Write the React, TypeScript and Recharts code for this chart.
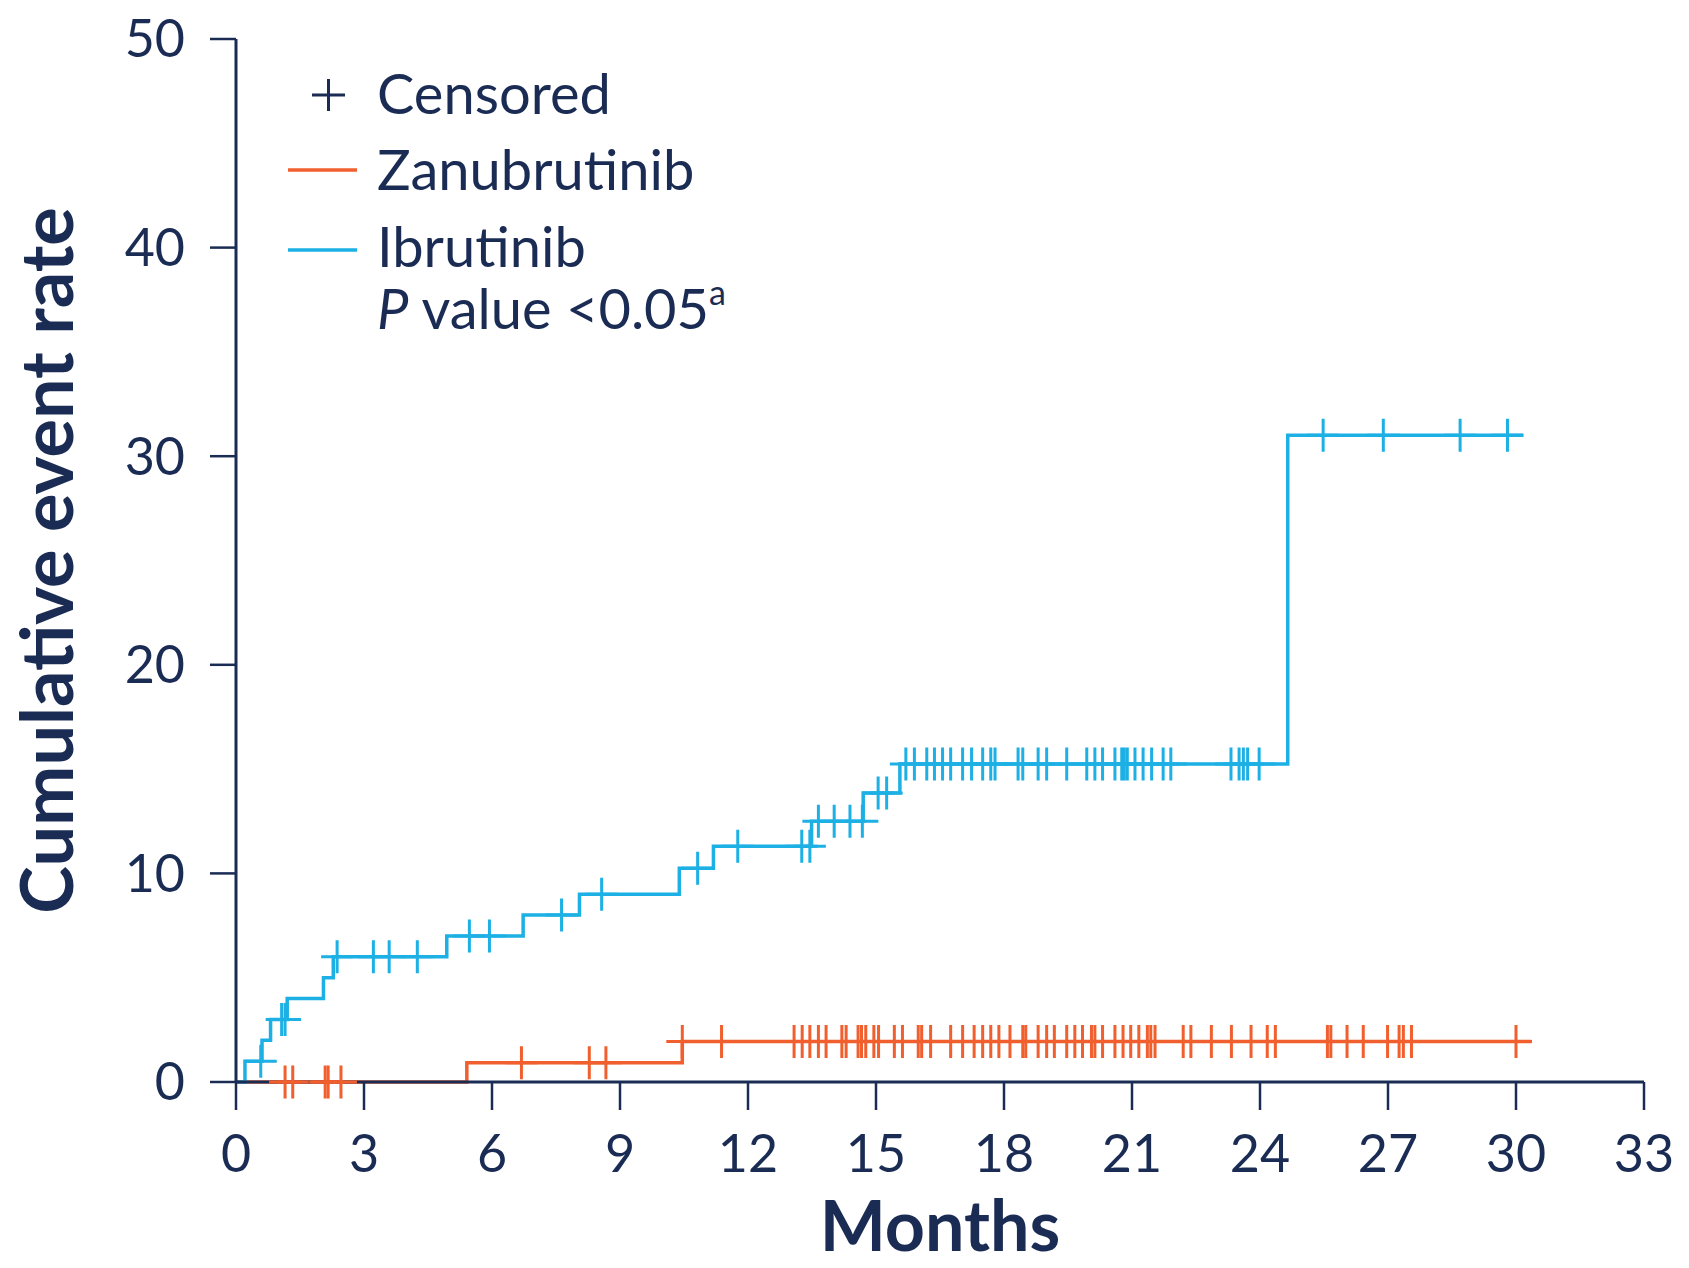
import React from 'react';
import { ComposedChart, Line, Scatter, XAxis, YAxis, Legend, Label } from 'recharts';

const NAVY = '#1B2C54';
const ORANGE = '#F05F2D';
const BLUE = '#1CB0E4';
const FONT = "Lato, 'Open Sans', 'Noto Sans', sans-serif";

const xTicks = [0, 3, 6, 9, 12, 15, 18, 21, 24, 27, 30, 33];
const yTicks = [0, 10, 20, 30, 40, 50];

// Step curves (event times, cumulative event rate %)
const ibrutinibMonths = [0, 0.21, 0.61, 0.81, 1.2, 2.05, 2.28, 4.94, 6.73, 8.05, 10.39, 11.19, 13.49, 14.7, 15.56, 24.65, 30.17];
const ibrutinibRate = [0, 1, 2, 3, 4, 5, 6, 7, 8, 9, 10.25, 11.3, 12.5, 13.85, 15.25, 31, 31];
const zanubrutinibMonths = [0, 5.41, 10.46, 30.36];
const zanubrutinibRate = [0, 0.92, 1.94, 1.94];

// Censoring times
const ibrutinibCensored = [
  0.58, 1.07, 1.15, 2.37, 3.22, 3.59, 4.25, 5.47, 5.94, 7.63, 8.57, 10.82, 11.76, 13.26, 13.45,
  13.65, 14.02, 14.39, 14.68, 15.05, 15.25,
  15.7, 15.9, 16.19, 16.37, 16.56, 16.75, 17.03, 17.24, 17.5, 17.69, 17.79, 18.33, 18.44, 18.8, 19.0,
  19.47, 19.94, 20.13, 20.31, 20.6, 20.76, 20.82, 20.89, 21.07, 21.26, 21.46, 21.73, 21.91,
  23.32, 23.51, 23.61, 23.71, 23.98,
  25.48, 26.89, 28.69, 29.8,
];
const zanubrutinibCensored = [
  1.15, 1.33, 2.09, 2.16, 2.46, 6.69, 8.28, 8.67,
  10.46, 11.38, 13.08, 13.27, 13.45, 13.65, 13.83, 14.2, 14.3, 14.58, 14.66, 14.76, 14.95, 15.06,
  15.43, 15.62, 15.99, 16.07, 16.28, 16.75, 17.03, 17.3, 17.5, 17.69, 17.88, 18.14, 18.44, 18.51,
  18.8, 19.0, 19.18, 19.47, 19.66, 19.84, 20.05, 20.13, 20.31, 20.6, 20.79, 20.97, 21.16, 21.36,
  21.44, 21.54, 22.2, 22.38, 22.86, 23.33, 23.79, 24.17, 24.36, 25.58, 25.66, 26.04, 26.42, 26.99,
  27.26, 27.36, 27.55, 30.0,
];

const toSeries = (months: number[], rates: number[]) => months.map((m, i) => ({ x: m, y: rates[i] }));
const levelAt = (months: number[], rates: number[], t: number) => {
  let v = rates[0];
  for (let i = 0; i < months.length; i++) if (months[i] <= t) v = rates[i];
  return v;
};
const toCensor = (times: number[], months: number[], rates: number[]) =>
  times.map((t) => ({ x: t, y: levelAt(months, rates, t) }));

const ibrutinibData = toSeries(ibrutinibMonths, ibrutinibRate);
const zanubrutinibData = toSeries(zanubrutinibMonths, zanubrutinibRate);
const ibrutinibCensorData = toCensor(ibrutinibCensored, ibrutinibMonths, ibrutinibRate);
const zanubrutinibCensorData = toCensor(zanubrutinibCensored, zanubrutinibMonths, zanubrutinibRate);

const makePlus = (color: string) => (props: any) => {
  const { cx, cy } = props;
  if (cx == null || cy == null) return <g />;
  return (
    <path
      d={`M${cx - 16},${cy}H${cx + 16}M${cx},${cy - 16.5}V${cy + 16.5}`}
      stroke={color}
      strokeWidth={3}
      fill="none"
    />
  );
};

const LegendContent = () => (
  <svg width={720} height={360} style={{ overflow: 'visible', fontFamily: FONT }}>
    <path d="M312,95H345M328.5,79V111" stroke={NAVY} strokeWidth={3} fill="none" />
    <text x={377} y={114} fontSize={56} fill={NAVY}>Censored</text>
    <line x1={288} y1={170} x2={357} y2={170} stroke={ORANGE} strokeWidth={3.5} />
    <text x={377} y={190} fontSize={56} fill={NAVY}>Zanubrutinib</text>
    <line x1={288} y1={250} x2={357} y2={250} stroke={BLUE} strokeWidth={3.5} />
    <text x={377} y={267} fontSize={56} fill={NAVY}>Ibrutinib</text>
    <text x={377} y={329} fontSize={56} fill={NAVY}>
      <tspan fontStyle="italic">P</tspan>
      <tspan> value &lt;0.05</tspan>
      <tspan fontSize={34} dy={-24}>a</tspan>
    </text>
  </svg>
);

const YTitle = (props: any) => {
  const vb = props.viewBox || {};
  const cy = (vb.y || 0) + (vb.height || 0) / 2;
  return (
    <text
      x={73}
      y={cy}
      transform={`rotate(-90, 73, ${cy})`}
      textAnchor="middle"
      fontSize={72}
      fontWeight="bold"
      fontFamily={FONT}
      fill={NAVY}
    >
      Cumulative event rate
    </text>
  );
};

const XTitle = (props: any) => {
  const vb = props.viewBox || {};
  const cx = (vb.x || 0) + (vb.width || 0) / 2;
  return (
    <text x={cx} y={1251} textAnchor="middle" fontSize={70} fontWeight="bold" fontFamily={FONT} fill={NAVY}>
      Months
    </text>
  );
};

export default function App() {
  return (
    <div style={{ position: 'absolute', left: 0, top: 0, width: 1689, height: 1268, background: '#fff' }}>
      <ComposedChart width={1689} height={1268} margin={{ top: 39, right: 45, left: 0, bottom: 0 }}>
        <XAxis
          type="number"
          dataKey="x"
          domain={[0, 33]}
          ticks={xTicks}
          interval={0}
          height={186}
          tickSize={28}
          tickMargin={25}
          axisLine={{ stroke: NAVY, strokeWidth: 3 }}
          tickLine={{ stroke: NAVY, strokeWidth: 2.5 }}
          tick={{ fill: NAVY, fontSize: 52, fontFamily: FONT }}
        >
          <Label content={<XTitle />} />
        </XAxis>
        <YAxis
          type="number"
          domain={[0, 50]}
          ticks={yTicks}
          interval={0}
          width={236}
          tickSize={26}
          tickMargin={25}
          axisLine={{ stroke: NAVY, strokeWidth: 3 }}
          tickLine={{ stroke: NAVY, strokeWidth: 2.5 }}
          tick={{ fill: NAVY, fontSize: 52, fontFamily: FONT }}
        >
          <Label content={<YTitle />} />
        </YAxis>
        <Legend
          content={<LegendContent />}
          layout="vertical"
          align="center"
          verticalAlign="middle"
          wrapperStyle={{ position: 'absolute', left: 0, top: 0, width: 720, height: 360 }}
        />
        <Line
          data={zanubrutinibData}
          dataKey="y"
          type="stepAfter"
          stroke={ORANGE}
          strokeWidth={3.5}
          dot={false}
          activeDot={false}
          isAnimationActive={false}
          name="Zanubrutinib"
        />
        <Line
          data={ibrutinibData}
          dataKey="y"
          type="stepAfter"
          stroke={BLUE}
          strokeWidth={3.5}
          dot={false}
          activeDot={false}
          isAnimationActive={false}
          name="Ibrutinib"
        />
        <Scatter
          data={zanubrutinibCensorData}
          dataKey="y"
          shape={makePlus(ORANGE)}
          isAnimationActive={false}
          legendType="none"
          name="Zanubrutinib censored"
        />
        <Scatter
          data={ibrutinibCensorData}
          dataKey="y"
          shape={makePlus(BLUE)}
          isAnimationActive={false}
          legendType="none"
          name="Ibrutinib censored"
        />
      </ComposedChart>
    </div>
  );
}
